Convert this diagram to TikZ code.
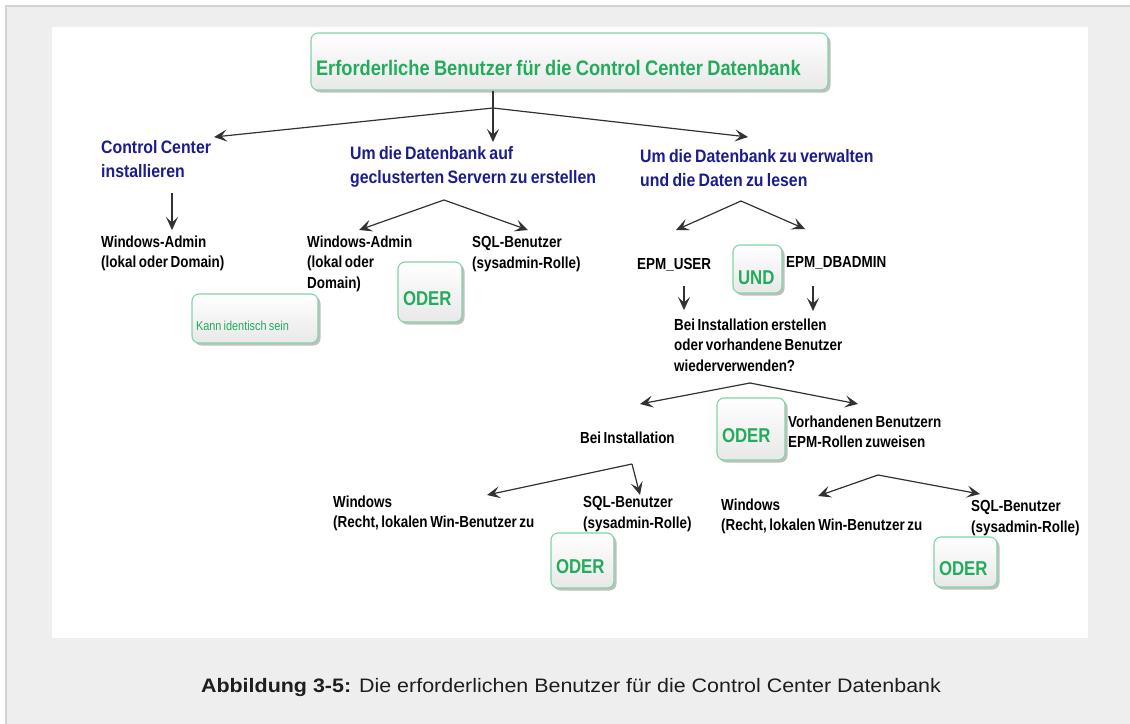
\documentclass[tikz,border=0pt]{standalone}
\usepackage{fontspec}
\setmainfont{Liberation Sans}
\newfontfamily\bodyf[FakeStretch=0.84,WordSpace=0.7]{Liberation Sans}
\newfontfamily\headf[FakeStretch=0.88,WordSpace=0.75]{Liberation Sans}
\newfontfamily\titlef[FakeStretch=0.87,WordSpace=0.85]{Liberation Sans}
\newfontfamily\capf[FakeStretch=1.1]{Liberation Sans}
\usetikzlibrary{arrows.meta,shadows,calc}
\definecolor{navy}{RGB}{28,28,140}
\definecolor{greent}{RGB}{34,172,92}
\definecolor{boxg}{RGB}{130,212,166}
\definecolor{bggrey}{RGB}{238,238,238}
\definecolor{bgborder}{RGB}{212,212,212}
\definecolor{linec}{RGB}{50,50,50}
\definecolor{capc}{RGB}{30,30,30}
\begin{document}
\begin{tikzpicture}[x=1pt,y=-1pt,
  conn/.style={draw=linec, line width=1.2pt},
  arr/.style={conn, -{Stealth[length=13pt,width=12pt,inset=5.5pt]}},
  gbox/.style={draw=boxg, line width=1.1pt, rounded corners=7pt,
    top color=white, bottom color=black!9,
    drop shadow={shadow xshift=2.5pt, shadow yshift=-2.5pt, opacity=0.25, fill=black},
    inner xsep=5pt, inner ysep=0pt, text=greent, text depth=0pt},
  oderbox/.style={gbox, font=\bodyf\bfseries\fontsize{20}{24}\selectfont, text height=26pt},
  txt/.style={inner sep=0pt, anchor=north west, align=left, text=black,
    font=\bodyf\bfseries\fontsize{16}{20.5}\selectfont},
  hd/.style={txt, text=navy, font=\headf\bfseries\fontsize{18}{24.5}\selectfont}]
\useasboundingbox (0,0) rectangle (1130,723);
\fill[white] (0,0) rectangle (1130,723);
\filldraw[fill=bggrey, draw=bgborder, line width=2pt] (5.5,5.5) rectangle (1145,745);
\fill[white] (52,27) rectangle (1088,638);

% boxes
\node[gbox, minimum width=517pt, minimum height=57pt, text height=28pt,
  font=\titlef\bfseries\fontsize{21}{25}\selectfont] (title) at (569.5,61.5)
  {\makebox[507pt][l]{Erforderliche Benutzer für die Control Center Datenbank}};
\node[gbox, minimum width=126pt, minimum height=49pt, inner xsep=4pt,
  text height=24pt, font=\bodyf\fontsize{13}{15}\selectfont] (kann) at (255,318.5)
  {\makebox[118pt][l]{Kann identisch sein}};
\node[oderbox, minimum width=64pt, minimum height=60pt] (oder1) at (430,292) {\makebox[54pt][l]{ODER}};
\node[oderbox, minimum width=49pt, minimum height=48pt, text height=30pt] (und) at (757.5,269) {\makebox[39pt][l]{UND}};
\node[oderbox, minimum width=68pt, minimum height=62pt] (oder2) at (751,429) {\makebox[58pt][l]{ODER}};
\node[oderbox, minimum width=63pt, minimum height=55pt] (oder3) at (582.5,560.5) {\makebox[53pt][l]{ODER}};
\node[oderbox, minimum width=63pt, minimum height=50pt] (oder4) at (965.5,562) {\makebox[53pt][l]{ODER}};

% headers
\node[hd] (h1) at (101,140) {Control Center\\installieren};
\node[hd] (h2) at (350,146) {Um die Datenbank auf\\geclusterten Servern zu erstellen};
\node[hd] (h3) at (640,149) {Um die Datenbank zu verwalten\\und die Daten zu lesen};

% texts
\node[txt] (w1) at (101,235.4) {Windows-Admin\\(lokal oder Domain)};
\node[txt] (w2) at (307,235.4) {Windows-Admin\\(lokal oder\\Domain)};
\node[txt] (s1) at (472,236.3) {SQL-Benutzer\\(sysadmin-Rolle)};
\node[txt] (epmu) at (637,258.4) {EPM\_USER};
\node[txt] (epmd) at (786,256.4) {EPM\_DBADMIN};
\node[txt] (q) at (674,318.4) {Bei Installation erstellen\\oder vorhandene Benutzer\\wiederverwenden?};
\node[txt] (bi) at (580,431.4) {Bei Installation};
\node[txt] (vb) at (788,415.4) {Vorhandenen Benutzern\\EPM-Rollen zuweisen};
\node[txt] (wl) at (333,495.4) {Windows\\(Recht, lokalen Win-Benutzer zu};
\node[txt] (sl) at (583,496.4) {SQL-Benutzer\\(sysadmin-Rolle)};
\node[txt] (wr) at (721,498.4) {Windows\\(Recht, lokalen Win-Benutzer zu};
\node[txt] (sr) at (971,500.4) {SQL-Benutzer\\(sysadmin-Rolle)};

% caption
\node[inner sep=0pt, text=capc, font=\capf\fontsize{19.5}{23}\selectfont] (cap) at (571,687)
  {\textbf{Abbildung 3-5:} Die erforderlichen Benutzer für die Control Center Datenbank};

% coordinates
\coordinate (b1) at (493,108);
\coordinate (t1) at (214,137);
\coordinate (t2) at (493,142);
\coordinate (t3) at (748,137);
\coordinate (c1) at (172,193);
\coordinate (t4) at (172,230);
\coordinate (b2) at (444,200);
\coordinate (t5) at (359,230);
\coordinate (t6) at (528,230);
\coordinate (b3) at (741,201);
\coordinate (t7) at (676,230);
\coordinate (t8) at (805,229);
\coordinate (c2) at (684,286);
\coordinate (t9) at (684,310);
\coordinate (c3) at (813,286);
\coordinate (t10) at (813,311);
\coordinate (b4) at (750,383);
\coordinate (t11) at (640,404);
\coordinate (t12) at (858,404);
\coordinate (b5) at (632,464);
\coordinate (t13) at (487,495);
\coordinate (t14) at (640,495);
\coordinate (b6) at (878,475);
\coordinate (t15) at (818,496);
\coordinate (t16) at (980,494);

% connectors
\draw[arr] (b1 |- title.south) -- (t2);
\draw[arr] (b1) -- (t1);
\draw[arr] (b1) -- (t3);
\draw[arr] (c1) -- (t4);
\draw[arr] (b2) -- (t5);
\draw[arr] (b2) -- (t6);
\draw[arr] (b3) -- (t7);
\draw[arr] (b3) -- (t8);
\draw[arr] (c2) -- (t9);
\draw[arr] (c3) -- (t10);
\draw[arr] (b4) -- (t11);
\draw[arr] (b4) -- (t12);
\draw[arr] (b5) -- (t13);
\draw[arr] (b5) -- (t14);
\draw[arr] (b6) -- (t15);
\draw[arr] (b6) -- (t16);
\end{tikzpicture}
\end{document}
